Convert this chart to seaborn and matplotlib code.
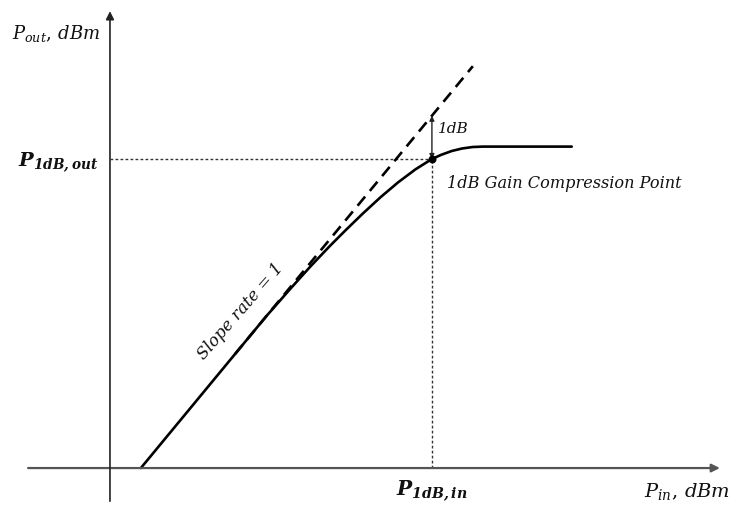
import numpy as np
import pandas as pd
import seaborn as sns
import matplotlib.pyplot as plt

# amplifier transfer curve (arbitrary dB units)
pin_curve = [0.89, 4.50, 5.20, 5.80, 6.34, 6.80, 7.30, 7.80, 8.30, 8.80,
             9.28, 9.55, 9.85, 10.15, 10.45, 10.75, 13.31]
pout_curve = [0.00, 3.61, 4.27, 4.82, 5.29, 5.67, 6.07, 6.45, 6.80, 7.11,
              7.36, 7.46, 7.55, 7.61, 7.645, 7.655, 7.655]

# ideal linear response (slope = 1)
pin_ideal = [3.60, 10.46]
pout_ideal = [2.71, 9.57]

# 1 dB compression point
p1db_in = 9.28
p1db_out = 7.36
p1db_ideal = 8.39

# axis extents
x_axis = [-2.36, 17.58]
y_axis = [-0.79, 10.88]

W, H = 732, 506


def fig_xy(px, py):
    return px / W, 1 - py / H


sns.set_theme(style="white")
plt.rcParams["mathtext.fontset"] = "dejavuserif"

fig = plt.figure(figsize=(W / 100, H / 100), dpi=100)
ax = fig.add_axes([0, 0, 1, 1])
ax.set_xlim(-3.17, 17.93)
ax.set_ylim(-0.88, 11.17)
ax.axis("off")

# axes with arrow heads
ax.annotate("", xy=(x_axis[1], 0), xytext=(x_axis[0], 0),
            arrowprops=dict(arrowstyle="-|>", color="#555555", lw=1.6,
                            mutation_scale=12, shrinkA=0, shrinkB=0))
ax.annotate("", xy=(0, y_axis[1]), xytext=(0, y_axis[0]),
            arrowprops=dict(arrowstyle="-|>", color="#222222", lw=1.2,
                            mutation_scale=12, shrinkA=0, shrinkB=0))

# dotted guide lines to the compression point
ax.plot([0, p1db_in], [p1db_out, p1db_out], color="#333333", lw=1.0,
        linestyle=(0, (2, 1.6)))
ax.plot([p1db_in, p1db_in], [0, p1db_out], color="#333333", lw=1.0,
        linestyle=(0, (2, 1.6)))

# ideal and real curves
df_curve = pd.DataFrame({"Pin": pin_curve, "Pout": pout_curve})
df_ideal = pd.DataFrame({"Pin": pin_ideal, "Pout": pout_ideal})
sns.lineplot(data=df_ideal, x="Pin", y="Pout", ax=ax, color="black",
             linewidth=1.9, linestyle=(0, (4.5, 2.8)))
sns.lineplot(data=df_curve, x="Pin", y="Pout", ax=ax, color="black",
             linewidth=1.9, solid_joinstyle="round")
sns.scatterplot(x=[p1db_in], y=[p1db_out], ax=ax, color="black", s=28,
                edgecolor="black", zorder=5)

# 1 dB gap arrow
ax.annotate("", xy=(p1db_in, p1db_ideal), xytext=(p1db_in, p1db_out),
            arrowprops=dict(arrowstyle="<|-|>", color="#222222", lw=1.0,
                            mutation_scale=7, shrinkA=0, shrinkB=0))

# labels
serif = dict(family="DejaVu Serif", style="italic", color="#111111")
fig.text(*fig_xy(12, 33), r"$P_{out},\,dBm$", fontsize=13, ha="left",
         va="center", color="#111111")
fig.text(*fig_xy(98, 162), r"$\mathbfit{P}_{\mathbfit{1dB,out}}$", fontsize=14,
         ha="right", va="center", color="#111111")
fig.text(*fig_xy(438, 129), "1dB", fontsize=11, ha="left", va="center", **serif)
fig.text(*fig_xy(447, 184), "1dB Gain Compression Point", fontsize=11.6,
         ha="left", va="center", **serif)
fig.text(*fig_xy(241, 311), "Slope rate = 1", fontsize=12, ha="center",
         va="center", rotation=49, rotation_mode="anchor", **serif)
fig.text(*fig_xy(432, 491), r"$\mathbfit{P}_{\mathbfit{1dB,in}}$", fontsize=14.5,
         ha="center", va="center", color="#111111")
fig.text(*fig_xy(730, 492), r"$P_{in},\,dBm$", fontsize=14, ha="right",
         va="center", color="#111111")

fig.savefig("out.png", dpi=100)
